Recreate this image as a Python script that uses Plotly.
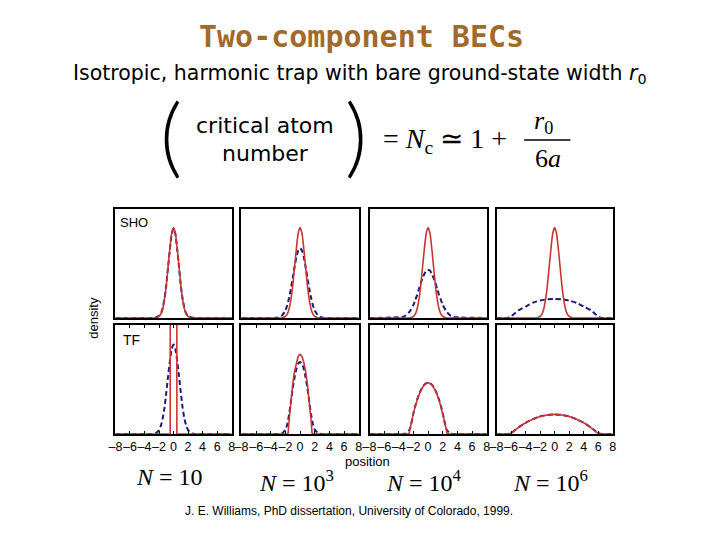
import plotly.graph_objects as go

# shared position grids
X_FINE = [-8, -3.5, -3, -2.5, -2, -1.75, -1.5, -1.25, -1, -0.75, -0.5, -0.25, 0,
          0.25, 0.5, 0.75, 1, 1.25, 1.5, 1.75, 2, 2.5, 3, 3.5, 8]
X_WIDE = [-8, -7, -6.5, -6, -5, -4, -3, -2, -1, 0, 1, 2, 3, 4, 5, 6, 6.5, 7, 8]

# top row: SHO (red = component 1, blue dashed = component 2)
sho_red = [0, 0, 0, 0, 0.014, 0.036, 0.083, 0.17, 0.30, 0.47, 0.64, 0.78, 0.83,
           0.78, 0.64, 0.47, 0.30, 0.17, 0.083, 0.036, 0.014, 0, 0, 0, 0]
sho_blue_n10 = [0, 0, 0, 0.005, 0.02, 0.04, 0.09, 0.175, 0.30, 0.47, 0.63, 0.77, 0.82,
                0.77, 0.63, 0.47, 0.30, 0.175, 0.09, 0.04, 0.02, 0.005, 0, 0, 0]
sho_blue_n1e3 = [0, 0, 0.005, 0.02, 0.07, 0.117, 0.185, 0.27, 0.37, 0.47, 0.56, 0.62, 0.64,
                 0.62, 0.56, 0.47, 0.37, 0.27, 0.185, 0.117, 0.07, 0.02, 0.005, 0, 0]
sho_blue_n1e4 = [0, 0.01, 0.025, 0.06, 0.12, 0.165, 0.21, 0.267, 0.32, 0.367, 0.405, 0.435, 0.44,
                 0.435, 0.405, 0.367, 0.32, 0.267, 0.21, 0.165, 0.12, 0.06, 0.025, 0.01, 0]
sho_blue_n1e6 = [0, 0, 0, 0.015, 0.07, 0.105, 0.14, 0.16, 0.172, 0.175,
                 0.172, 0.16, 0.14, 0.105, 0.07, 0.015, 0, 0, 0]

# bottom row: Thomas-Fermi
tf_red_n10_x = [-8, -0.46, -0.45, 0, 0.45, 0.46, 8]
tf_red_n10 = [0, 0, 1.6, 3.0, 1.6, 0, 0]
tf_blue_n10 = [0, 0, 0, 0.006, 0.036, 0.075, 0.14, 0.24, 0.38, 0.53, 0.67, 0.78, 0.82,
               0.78, 0.67, 0.53, 0.38, 0.24, 0.14, 0.075, 0.036, 0.006, 0, 0, 0]
tf_red_n1e3_x = [-8, -1.65, -1.5, -1.25, -1, -0.75, -0.5, -0.25, 0,
                 0.25, 0.5, 0.75, 1, 1.25, 1.5, 1.65, 8]
tf_red_n1e3 = [0, 0, 0.126, 0.31, 0.46, 0.58, 0.66, 0.713, 0.73,
               0.713, 0.66, 0.58, 0.46, 0.31, 0.126, 0, 0]
tf_blue_n1e3 = [0, 0, 0, 0.005, 0.04, 0.09, 0.18, 0.30, 0.42, 0.52, 0.60, 0.645, 0.66,
                0.645, 0.60, 0.52, 0.42, 0.30, 0.18, 0.09, 0.04, 0.005, 0, 0, 0]
tf_red_n1e4_x = [-8, -2.6, -2.5, -2.25, -2, -1.5, -1, -0.5, 0, 0.5, 1, 1.5, 2, 2.25, 2.5, 2.6, 8]
tf_red_n1e4 = [0, 0, 0.035, 0.118, 0.192, 0.313, 0.40, 0.453, 0.47,
               0.453, 0.40, 0.313, 0.192, 0.118, 0.035, 0, 0]
tf_blue_n1e4 = [0, 0, 0.005, 0.045, 0.19, 0.257, 0.313, 0.361, 0.40, 0.431, 0.453, 0.466, 0.47,
                0.466, 0.453, 0.431, 0.40, 0.361, 0.313, 0.257, 0.19, 0.045, 0.005, 0, 0]
tf_red_n1e6 = [0, 0, 0, 0.006, 0.059, 0.103, 0.136, 0.161, 0.175, 0.18,
               0.175, 0.161, 0.136, 0.103, 0.059, 0.006, 0, 0, 0]
tf_blue_n1e6 = [0, 0, 0, 0.008, 0.059, 0.103, 0.136, 0.161, 0.175, 0.18,
                0.175, 0.161, 0.136, 0.103, 0.059, 0.008, 0, 0, 0]

tick_vals = [-8, -6, -4, -2, 0, 2, 4, 6, 8]
tick_text = ["–8", "–6", "–4", "–2", "0", "2", "4", "6", "8"]
n_labels = ["<i>N</i> = 10", "<i>N</i> = 10<sup>3</sup>",
            "<i>N</i> = 10<sup>4</sup>", "<i>N</i> = 10<sup>6</sup>"]

RED = "#cc3333"
BLUE = "#1c1a78"
W, H = 720, 540
OFF = 8  # page body margin


def px(x):
    return (x - OFF) / W


def py(y):
    return 1 - (y - OFF) / H


panels = [
    (1, 1, X_FINE, sho_red, X_FINE, sho_blue_n10),
    (1, 2, X_FINE, sho_red, X_FINE, sho_blue_n1e3),
    (1, 3, X_FINE, sho_red, X_FINE, sho_blue_n1e4),
    (1, 4, X_FINE, sho_red, X_WIDE, sho_blue_n1e6),
    (2, 1, tf_red_n10_x, tf_red_n10, X_FINE, tf_blue_n10),
    (2, 2, tf_red_n1e3_x, tf_red_n1e3, X_FINE, tf_blue_n1e3),
    (2, 3, tf_red_n1e4_x, tf_red_n1e4, X_FINE, tf_blue_n1e4),
    (2, 4, X_WIDE, tf_red_n1e6, X_WIDE, tf_blue_n1e6),
]

col_px = [(110, 228), (238, 357), (368, 487), (497, 615)]
row_px = [(209, 318), (325, 434)]

fig = go.Figure()
layout = {}
for i, (r, c, rx, ry, bx, by) in enumerate(panels):
    n = i + 1
    xa = "x" if n == 1 else f"x{n}"
    ya = "y" if n == 1 else f"y{n}"
    fig.add_trace(go.Scatter(x=bx, y=by, xaxis=xa, yaxis=ya, mode="lines",
                             line=dict(color=BLUE, width=2, dash="5px,3px", shape="spline", smoothing=0.6),
                             showlegend=False, hoverinfo="skip"))
    fig.add_trace(go.Scatter(x=rx, y=ry, xaxis=xa, yaxis=ya, mode="lines",
                             line=dict(color=RED, width=1.6,
                                       shape="linear" if r == 2 and c < 4 else "spline", smoothing=0.6),
                             showlegend=False, hoverinfo="skip"))
    x0, x1 = col_px[c - 1]
    y0, y1 = row_px[r - 1]
    layout[f"xaxis{'' if n == 1 else n}"] = dict(
        domain=[px(x0), px(x1)], anchor=ya, range=[-8, 8],
        showgrid=False, zeroline=False, showline=True, linecolor="black", linewidth=2,
        mirror="ticks" if r == 2 else True,
        ticks="inside" if r == 2 else "", ticklen=3, tickcolor="black",
        tickvals=tick_vals, ticktext=tick_text, showticklabels=(r == 2), tickangle=0,
        tickfont=dict(family="Liberation Sans", size=12.5, color="black"),
    )
    layout[f"yaxis{'' if n == 1 else n}"] = dict(
        domain=[py(y1), py(y0)], anchor=xa, range=[0, 1],
        showgrid=False, zeroline=False, showline=True, linecolor="black", linewidth=2,
        mirror=True, ticks="", showticklabels=False,
    )

fig.update_layout(**layout)

ann = []


def text(x, y, s, size, family="Liberation Sans", color="black", xanchor="center", weight=None, **kw):
    font = dict(family=family, size=size, color=color)
    if weight:
        font["weight"] = weight
    ann.append(dict(x=px(x), y=py(y), xref="paper", yref="paper", text=s, showarrow=False,
                    xanchor=xanchor, yanchor="middle", font=font, **kw))


text(360, 37, "<b>Two-component BECs</b>", 30, family="DejaVu Sans Mono", color="#a26a2a")
text(358, 74, "Isotropic, harmonic trap with bare ground-state width <i>r</i><sub>0</sub>", 20.5,
     family="DejaVu Sans")
# formula
text(166, 133, "(", 86, family="Lato", weight=300)
text(354, 133, ")", 86, family="Lato", weight=300)
text(262, 125, "critical atom", 22, family="DejaVu Sans")
text(262, 153, "number", 22, family="DejaVu Sans")
text(445, 140, "= <i>N</i><sub>c</sub> ≃ 1 +", 28, family="Liberation Serif")
text(545, 122, "<i>r</i><sub>0</sub>", 26, family="Liberation Serif")
text(549, 158, "6<i>a</i>", 26, family="Liberation Serif")

text(113, 222, "SHO", 13, xanchor="left")
text(116, 340, "TF", 14, xanchor="left")
text(87, 318, "density", 13, textangle=-90)
text(366, 461, "position", 13)
for (x0, x1), lab, yy in zip(col_px, n_labels, [477, 481, 481, 481]):
    text((x0 + x1) / 2 - 4, yy, lab, 24, family="Liberation Serif")
text(347, 511, "J. E. Williams, PhD dissertation, University of Colorado, 1999.", 12)

fig.update_layout(
    width=W, height=H, margin=dict(l=0, r=0, t=0, b=0),
    paper_bgcolor="white", plot_bgcolor="white",
    annotations=ann,
    shapes=[dict(type="line", xref="paper", yref="paper",
                 x0=px(525), x1=px(572), y0=py(140), y1=py(140),
                 line=dict(color="black", width=1.5))],
)

fig.write_html("out.html")
